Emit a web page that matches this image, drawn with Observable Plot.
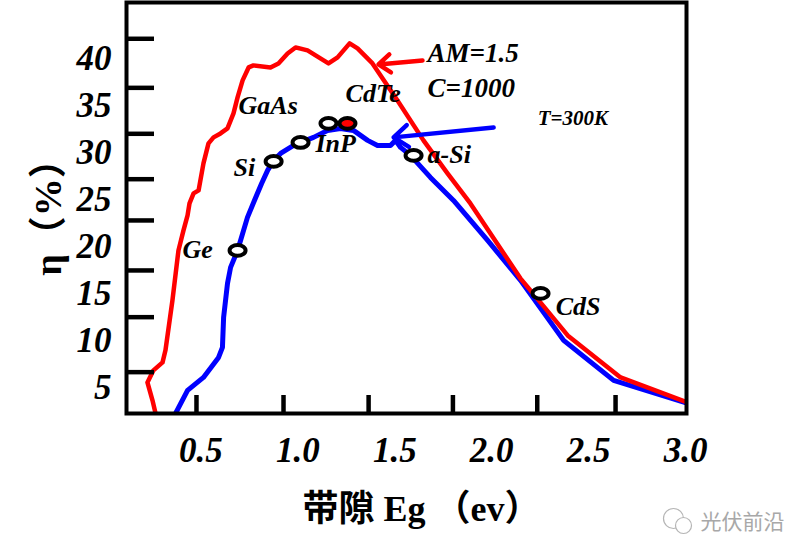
<!DOCTYPE html>
<html><head><meta charset="utf-8">
<script src="https://cdn.jsdelivr.net/npm/d3@7"></script>
<script src="https://cdn.jsdelivr.net/npm/@observablehq/plot@0.6"></script>
<style>html,body{margin:0;padding:0;background:#fff;} svg{display:block}</style>
</head><body>
<script>
// Efficiency vs band gap, AM=1.5, C=1000 (red curve)
const redEg  = [0.266,0.250,0.224,0.255,0.302,0.317,0.353,0.384,0.410,0.431,0.441,0.462,0.488,0.513,0.539,0.565,0.601,0.637,0.668,0.689,0.715,0.746,0.771,0.859,0.900,0.947,0.988,1.050,1.133,1.158,1.205,1.267,1.308,1.385,1.514,1.648,1.772,1.890,2.148,2.200,2.392,2.665,2.995];
const redEta = [2.23,3.62,5.53,6.81,7.66,8.94,14.26,19.57,21.70,23.30,24.57,25.64,25.96,28.83,30.96,31.60,32.02,32.55,34.15,35.85,37.66,39.04,39.26,39.04,39.47,40.53,41.17,40.85,39.79,39.47,40.11,41.60,41.06,39.47,35.53,31.28,27.77,24.57,16.60,15.32,10.53,6.06,3.51];
// Efficiency vs band gap, T=300K (blue curve)
const blueEg  = [0.369,0.431,0.513,0.591,0.611,0.617,0.637,0.653,0.689,0.740,0.776,0.813,0.844,0.875,0.911,0.978,1.014,1.081,1.153,1.220,1.287,1.360,1.411,1.478,1.504,1.530,1.581,1.684,1.803,1.979,2.149,2.371,2.629,2.995];
const blueEta = [2.23,4.68,6.06,8.19,9.26,12.45,16.06,17.77,19.57,23.09,24.89,26.70,28.09,29.15,29.89,30.74,31.06,31.60,32.34,32.55,32.34,31.28,30.74,30.74,31.28,30.53,29.68,27.34,24.89,20.64,16.38,10.00,5.74,3.40];
// Materials
const matNames = ["Ge","Si","InP","GaAs","CdTe","a-Si","CdS"];
const matEg    = [0.689,0.875,1.014,1.158,1.256,1.597,2.252];
const matEta   = [19.57,29.04,31.06,33.09,33.09,29.68,15.00];
const matFilled = [false,false,false,false,true,false,false];
const matLabelEg  = [0.405,0.668,1.091,0.694,1.246,1.669,2.330];
const matLabelEta = [18.72,27.45,30.00,34.04,35.32,28.83,12.66];
// Condition notes
const noteText = ["AM=1.5","C=1000","T=300K"];
const noteEg   = [1.669,1.669,2.237];
const noteEta  = [39.57,35.85,32.87];
const noteSize = [27,27,21];
// Arrows
const arrowColor = ["#ff0000","#0000ff"];
const arrowX1 = [1.643,2.010], arrowY1 = [39.79,32.66];
const arrowX2 = [1.416,1.494], arrowY2 = [39.36,31.60];
// Axes
const xTickMarks = [0.477,0.926,1.365,1.800,2.235,2.639];
const xTickLabels = [0.5,1.0,1.5,2.0,2.5,3.0];
const yTickMarks = [42.09,36.87,31.98,27.15,22.76,17.44,12.47,6.62];
const yTickLabels = [40,35,30,25,20,15,10,5];
const xDomain = [0.116, 3.005], yDomain = [2.22, 45.95];
const xTitle = "带隙 Eg （ev）";
const yTitle = "η（%）";
const watermark = "光伏前沿";

const serif = "'Liberation Serif','Times New Roman','Noto Sans CJK SC',serif";
const tickFont = {fontFamily: serif, fontWeight: "bold", fontStyle: "italic", fontSize: 35};

const red = redEg.map((x, i) => ({x, y: redEta[i]}));
const blue = blueEg.map((x, i) => ({x, y: blueEta[i]}));
const mats = matNames.map((n, i) => ({n, x: matEg[i], y: matEta[i], filled: matFilled[i], lx: matLabelEg[i], ly: matLabelEta[i]}));
const notes = noteText.map((t, i) => ({t, x: noteEg[i], y: noteEta[i], s: noteSize[i]}));
const arrows = arrowColor.map((c, i) => ({c, x1: arrowX1[i], y1: arrowY1[i], x2: arrowX2[i], y2: arrowY2[i]}));

const ellipse = {draw(c, size) {
  const r = Math.sqrt(size / Math.PI), a = r * 1.23, b = r * 0.82, k = 0.5523;
  c.moveTo(a, 0);
  c.bezierCurveTo(a, b * k, a * k, b, 0, b);
  c.bezierCurveTo(-a * k, b, -a, b * k, -a, 0);
  c.bezierCurveTo(-a, -b * k, -a * k, -b, 0, -b);
  c.bezierCurveTo(a * k, -b, a, -b * k, a, 0);
  c.closePath();
}};

const chart = Plot.plot({
  width: 802, height: 557,
  marginLeft: 126, marginRight: 116, marginTop: 2, marginBottom: 144,
  x: {type: "linear", domain: xDomain},
  y: {type: "linear", domain: yDomain},
  style: {background: "white", fontFamily: serif, overflow: "visible"},
  marks: [
    Plot.line(blue, {x: "x", y: "y", stroke: "#0000ff", strokeWidth: 5, strokeLinejoin: "round", clip: true}),
    Plot.line(red, {x: "x", y: "y", stroke: "#ff0000", strokeWidth: 4.5, strokeLinejoin: "round", clip: true}),
    Plot.arrow(arrows, {x1: "x1", y1: "y1", x2: "x2", y2: "y2", stroke: d => d.c, strokeWidth: 4.5, headLength: 6, headAngle: 75}),
    Plot.dot(mats.filter(d => !d.filled), {x: "x", y: "y", r: 6.5, symbol: ellipse, fill: "white", stroke: "black", strokeWidth: 4}),
    Plot.dot(mats.filter(d => d.filled), {x: "x", y: "y", r: 6.5, symbol: ellipse, fill: "#ff0000", stroke: "black", strokeWidth: 4}),
    Plot.text(mats, {x: "lx", y: "ly", text: "n", textAnchor: "start", lineAnchor: "bottom", fontSize: 26, fontWeight: "bold", fontStyle: "italic", fontFamily: serif, fill: "black"}),
    Plot.text(notes, {x: "x", y: "y", text: "t", textAnchor: "start", lineAnchor: "bottom", fontSize: d => d.s, fontWeight: "bold", fontStyle: "italic", fontFamily: serif, fill: "black"}),
    Plot.frame({stroke: "black", strokeWidth: 4}),
    Plot.axisY({ticks: yTickMarks, tickSize: -28, tickFormat: () => "", strokeWidth: 4.5, label: null}),
    Plot.axisY({ticks: yTickLabels, tickSize: 0, tickPadding: 15, label: null, ...tickFont}),
    Plot.axisX({ticks: xTickMarks, tickSize: -18, tickFormat: () => "", strokeWidth: 4.5, label: null}),
    Plot.axisX({ticks: xTickLabels, tickSize: 0, tickPadding: 24, tickFormat: d => d.toFixed(1), label: null, ...tickFont}),
    Plot.text([yTitle], {frameAnchor: "left", dx: -78, rotate: -90, fontSize: 38, fontWeight: "bold", fontFamily: serif, textAnchor: "middle", lineAnchor: "middle", fill: "black"}),
    Plot.text([xTitle], {frameAnchor: "bottom", dx: 15, dy: 107, fontSize: 36, fontWeight: "bold", fontFamily: serif, textAnchor: "middle", lineAnchor: "bottom", fill: "black"}),
    Plot.dot([0], {frameAnchor: "bottom-right", dx: -13, dy: 105, r: 10, fill: "none", stroke: "#b5b5b5", strokeWidth: 1.2}),
    Plot.dot([0], {frameAnchor: "bottom-right", dx: -3, dy: 112, r: 8, fill: "white", stroke: "#b5b5b5", strokeWidth: 1.2}),
    Plot.text([watermark], {frameAnchor: "bottom-right", dx: 14, dy: 109, textAnchor: "start", lineAnchor: "middle", fontSize: 21, fill: "#a8a8a8", fontFamily: "'Noto Sans CJK SC'"})
  ]
});
document.body.appendChild(chart);
</script>
</body></html>
